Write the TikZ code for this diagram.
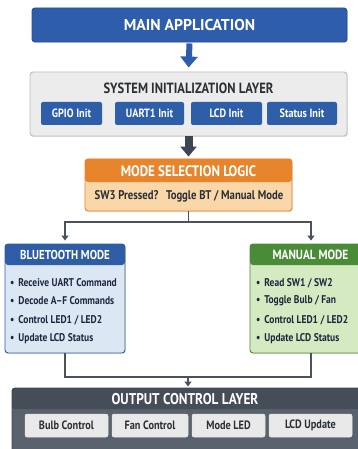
\documentclass[tikz,border=0pt]{standalone}
\usepackage{fontspec}
\setmainfont{PT Sans}[FakeStretch=0.85]
\newfontfamily\widefont{PT Sans}
\usetikzlibrary{arrows.meta,shadows}

\definecolor{mainblue}{HTML}{2E5EAB}
\definecolor{initblue}{HTML}{2F5EA9}
\definecolor{sysbg}{HTML}{ECECEC}
\definecolor{sysline}{HTML}{BDBDBD}
\definecolor{slate}{HTML}{3D4652}
\definecolor{conn}{HTML}{4A525C}
\definecolor{orangehd}{HTML}{E8842C}
\definecolor{orangebd}{HTML}{F9D7A8}
\definecolor{bthd}{HTML}{2E5DA6}
\definecolor{btbd}{HTML}{DCE7F4}
\definecolor{mnhd}{HTML}{4A8B38}
\definecolor{mnbd}{HTML}{D5EAC0}
\definecolor{outbg}{HTML}{59616C}
\definecolor{outhd}{HTML}{454D58}
\definecolor{cellbg}{HTML}{E9E9E9}
\definecolor{txtdark}{HTML}{2B2F36}
\definecolor{itemtxt}{HTML}{1E2740}

\newlength{\hdh}
\newcommand{\fs}[1]{\fontsize{#1}{#1}\selectfont\bfseries}

\tikzset{
  shade/.style={drop shadow={opacity=0.22, shadow xshift=0.8pt, shadow yshift=-1pt}},
  panel/.style={draw, rounded corners=3pt, line width=0.9pt, inner sep=0pt, shade},
  headed/.style 2 args={panel, fill=#2, path picture={
      \fill[#1] (path picture bounding box.north west)
        rectangle ([yshift=-\hdh]path picture bounding box.north east);}},
  cell/.style={rounded corners=2pt, inner sep=0pt, minimum height=23pt},
  bluearrow/.style={mainblue, line width=6pt, -{Triangle[width=17pt,length=11pt]}},
  darkarrow/.style={slate, line width=8pt, -{Triangle[width=16pt,length=10pt]}},
  link/.style={conn, line width=1.6pt},
  linkarrow/.style={link, -{Triangle[width=7pt,length=5pt]}},
  item/.style={anchor=west, inner sep=0pt, text=itemtxt, font=\fs{11.2}},
}

\begin{document}
\begin{tikzpicture}[x=1pt,y=-1pt]
\useasboundingbox[fill=white] (0,0) rectangle (357,449);

% top block
\node[panel, draw=mainblue!85!black, fill=mainblue, minimum width=315pt, minimum height=34pt,
      text=white, font=\widefont\fs{15.7}] (main) at (189.5,25) {MAIN APPLICATION};

% system initialization layer
\node[panel, draw=sysline, fill=sysbg, minimum width=317pt, minimum height=64pt] (sys) at (188.5,104) {};
\node[text=txtdark, font=\fs{14.8}] (systitle) at (188.5,88) {SYSTEM INITIALIZATION LAYER};
\tikzset{initcell/.style={cell, fill=initblue, text=white, font=\fs{12}}}
\node[initcell, minimum width=61pt] (gpio) at (71.5,113.5) {GPIO Init};
\node[initcell, minimum width=69pt] (uart) at (149.5,113.5) {UART1 Init};
\node[initcell, minimum width=71pt] (lcd) at (226.5,113.5) {LCD Init};
\node[initcell, minimum width=70pt] (status) at (302,113.5) {Status Init};

\draw[bluearrow, shorten <=1pt, shorten >=4pt] (main.south) -- (sys.north);

% mode selection
\setlength{\hdh}{23pt}
\node[headed={orangehd}{orangebd}, draw=orangehd, minimum width=207pt, minimum height=52pt] (mode) at (188.5,185) {};
\node[text=white, font=\fs{15.2}] (modetitle) at (188.5,171) {MODE SELECTION LOGIC};
\node[text=txtdark, font=\fs{12.6}] (modetext) at (189,196)
  {SW3 Pressed?\hspace{0.6em}Toggle BT / Manual Mode};

\draw[darkarrow, shorten >=2pt] (sys.south) -- (mode.north);

% the two operating modes
\setlength{\hdh}{21pt}
\node[headed={bthd}{btbd}, draw=bthd, minimum width=120pt, minimum height=109pt] (bt) at (65,298.5) {};
\node[text=white, font=\fs{12.9}] (bttitle) at (65,255) {BLUETOOTH MODE};
\node[headed={mnhd}{mnbd}, draw=mnhd, minimum width=122pt, minimum height=109pt] (man) at (311,298.5) {};
\node[text=white, font=\fs{13.3}] (mantitle) at (310.5,255) {MANUAL MODE};

\node[item] (bt1) at (10,283) {\textbullet\hspace{0.35em}Receive UART Command};
\node[item] (bt2) at (10,301) {\textbullet\hspace{0.35em}Decode A–F Commands};
\node[item] (bt3) at (10,320) {\textbullet\hspace{0.35em}Control LED1 / LED2};
\node[item] (bt4) at (10,339) {\textbullet\hspace{0.35em}Update LCD Status};

\node[item] (mn1) at (256,283) {\textbullet\hspace{0.35em}Read SW1 / SW2};
\node[item] (mn2) at (256,301) {\textbullet\hspace{0.35em}Toggle Bulb / Fan};
\node[item] (mn3) at (256,320) {\textbullet\hspace{0.35em}Control LED1 / LED2};
\node[item] (mn4) at (256,339) {\textbullet\hspace{0.35em}Update LCD Status};

\coordinate (split) at (188.5,222);
\draw[link] (mode.south) -- (split);
\draw[linkarrow, shorten >=3pt] (split) -| (bt.north);
\draw[linkarrow, shorten >=3pt] (split) -| (man.north);

% output control layer
\node[panel, draw=slate, fill=outbg, minimum width=352pt, minimum height=66pt,
      path picture={\fill[outhd] (path picture bounding box.north west)
        rectangle ([yshift=-21pt]path picture bounding box.north east);}] (out) at (188,421) {};
\node[text=white, font=\fs{15.6}] (outtitle) at (185,399) {OUTPUT CONTROL LAYER};
\tikzset{outcell/.style={cell, fill=cellbg, draw=white!80!gray, line width=0.5pt, text=txtdark,
  font=\fs{12.1}}}
\node[outcell, minimum width=83pt] (bulb) at (66.5,425.5) {Bulb Control};
\node[outcell, minimum width=76pt] (fan) at (150,425.5) {Fan Control};
\node[outcell, minimum width=73pt] (modeled) at (228.5,425.5) {Mode LED};
\node[outcell, minimum width=83pt] (lcdup) at (310.5,425.5) {LCD Update};

\coordinate (join) at (188,377);
\draw[link] (bt.south) |- (join) -| (man.south);
\draw[linkarrow, shorten >=1pt] (join) -- (out.north);
\end{tikzpicture}
\end{document}
